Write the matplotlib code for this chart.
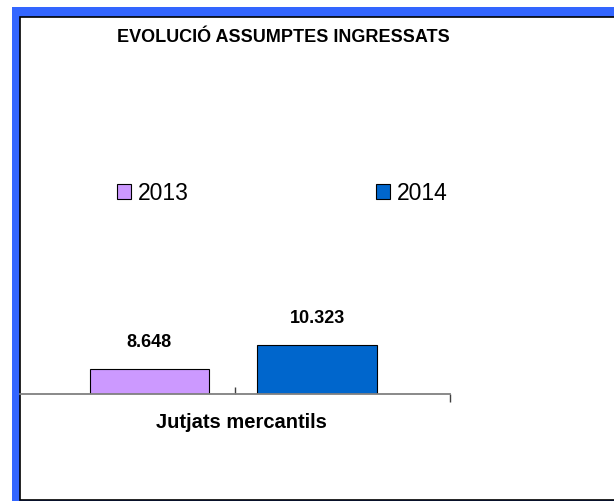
import matplotlib.pyplot as plt
from matplotlib.patches import Rectangle

plt.rcParams['font.family'] = ['Liberation Sans', 'DejaVu Sans']

# Data
category = "Jutjats mercantils"
years = ["2013", "2014"]
values = [8648, 10323]
colors = ["#CC99FF", "#0066CC"]
title = "EVOLUCIÓ ASSUMPTES INGRESSATS"

W, H = 614, 501
fig = plt.figure(figsize=(W / 100, H / 100), dpi=100)


def fx(px):
    return px / W


def fy(py):
    return 1 - py / H


# Blue outer frame and white inner panel with black border
fig.patches.append(Rectangle((fx(12), 0), 1, fy(7), transform=fig.transFigure,
                             facecolor="#3366FF", edgecolor="none", zorder=-20))
fig.patches.append(Rectangle((fx(19.5), fy(499.5)), 1, fy(17) - fy(499.5),
                             transform=fig.transFigure, facecolor="white",
                             edgecolor="black", linewidth=1.2, zorder=-10))

# Plot area: x from 20 to 450 px, baseline at 394 px
ax = fig.add_axes([fx(20), fy(394), fx(450) - fx(20), fy(60) - fy(394)])
ax.patch.set_alpha(0)

offsets = [-0.199, 0.191]
bar_w = 0.278
bars = []
for off, yr, v, c in zip(offsets, years, values, colors):
    b = ax.bar(off, v, width=bar_w, color=c, edgecolor="black", linewidth=0.8,
               label=yr, zorder=2)
    bars.append(b[0])
    ax.annotate(f"{v:,}".replace(",", "."), (off, v), xytext=(0, 19),
                textcoords="offset points", ha="center", va="center",
                fontsize=13, fontweight="bold")

ax.set_xlim(-0.5, 0.5)
ax.set_ylim(6900, 30200)
for s in ["top", "left", "right"]:
    ax.spines[s].set_visible(False)
ax.spines["bottom"].set_color("#808080")
ax.spines["bottom"].set_linewidth(1.3)
ax.set_yticks([])
ax.set_xticks([0.0])
ax.set_xticklabels([""])
ax.set_xticks([0.5], minor=True)
ax.tick_params(axis="x", which="major", direction="in", length=5,
               width=1, color="#404040")
ax.tick_params(axis="x", which="minor", direction="out", length=6,
               width=1, color="#404040")

fig.text(fx(283), fy(37), title, ha="center", va="center",
         fontsize=13, fontweight="bold")
fig.text(fx(241), fy(423), category, ha="center", va="center",
         fontsize=14.5, fontweight="bold")

fig.legend(handles=bars, labels=years, loc="center left",
           bbox_to_anchor=(fx(117), fy(193)), ncol=2, frameon=False,
           fontsize=16.5, handlelength=0.6, handleheight=0.6,
           handletextpad=0.3, columnspacing=8.2, borderpad=0,
           borderaxespad=0)

fig.savefig("out.png", dpi=100)
